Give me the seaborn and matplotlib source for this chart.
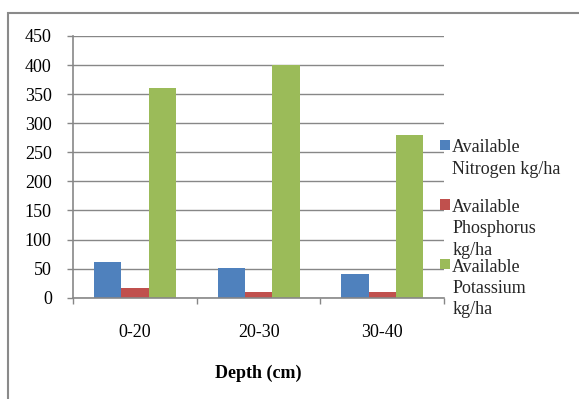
import matplotlib
matplotlib.use("Agg")
import matplotlib.pyplot as plt
from matplotlib.patches import Rectangle
import pandas as pd
import seaborn as sns

# Soil nutrient availability by depth
depths = ["0-20", "20-30", "30-40"]
nitrogen = [61, 51, 40]
phosphorus = [16, 10, 9]
potassium = [360, 400, 280]
nutrients = ["Available Nitrogen kg/ha", "Available Phosphorus kg/ha", "Available Potassium kg/ha"]
legend_labels = ["Available\nNitrogen kg/ha\n", "Available\nPhosphorus\nkg/ha", "Available\nPotassium\nkg/ha"]
colors = ["#4F81BD", "#C0504D", "#9BBB59"]
y_ticks = [0, 50, 100, 150, 200, 250, 300, 350, 400, 450]

df = pd.DataFrame({
    "Depth": depths * 3,
    "Nutrient": [n for n in nutrients for _ in depths],
    "Value": nitrogen + phosphorus + potassium,
})

sns.set_theme(style="white")
plt.rcParams["font.family"] = ["Liberation Serif", "DejaVu Serif"]

W, H = 579, 399
fig = plt.figure(figsize=(W / 100, H / 100), dpi=100)
left, right, top, bottom = 73.3, 444.0, 36.0, 297.7
ax = fig.add_axes([left / W, 1 - bottom / H, (right - left) / W, (bottom - top) / H])

sns.barplot(data=df, x="Depth", y="Value", hue="Nutrient", hue_order=nutrients,
            palette=colors, width=0.666, linewidth=0, saturation=1, ax=ax)

grid_c = "#878787"
ax.set_xlim(-0.5, 2.5)
ax.set_ylim(0, 450)
ax.set_yticks(y_ticks)
ax.set_yticklabels([str(v) for v in y_ticks], fontsize=13)
ax.yaxis.grid(True, color=grid_c, linewidth=1.0)
ax.set_axisbelow(True)
for s in ["top", "right"]:
    ax.spines[s].set_visible(False)
for s in ["left", "bottom"]:
    ax.spines[s].set_color(grid_c)
    ax.spines[s].set_linewidth(1.2)
ax.tick_params(axis="y", which="major", length=4, width=1.0, color=grid_c,
               direction="out", left=True, pad=11.5, labelcolor="black")
ax.set_xticks([0, 1, 2])
ax.set_xticklabels(depths, fontsize=13)
ax.set_xticks([-0.5, 0.5, 1.5, 2.5], minor=True)
ax.tick_params(axis="x", which="major", length=0, pad=19, labelcolor="black")
ax.tick_params(axis="x", which="minor", length=4, width=1.0, color=grid_c,
               direction="out", bottom=True)
ax.set_xlabel("Depth (cm)", fontsize=13, fontweight="bold", labelpad=17, color="black")
ax.set_ylabel("")

handles, _ = ax.get_legend_handles_labels()
if ax.get_legend() is not None:
    ax.get_legend().remove()
leg = fig.legend(handles, legend_labels, loc="upper left",
                 bbox_to_anchor=(439.5 / W, 1 - 139.5 / H), bbox_transform=fig.transFigure,
                 frameon=False, fontsize=13, borderpad=0, borderaxespad=0,
                 handlelength=0.59, handleheight=0.52, handletextpad=0.12,
                 labelspacing=0.0)
for col in leg._legend_handle_box.get_children():
    for item in col.get_children():
        item.align = "top"
for t in leg.get_texts():
    t.set_linespacing(1.33)

# outer chart frame
fig.add_artist(Rectangle((8 / W, -0.2), 1.2, 1.2 - 12.7 / H, transform=fig.transFigure,
                         fill=False, edgecolor="#8a8a8a", linewidth=1.5))

fig.savefig("out.png", dpi=100)
